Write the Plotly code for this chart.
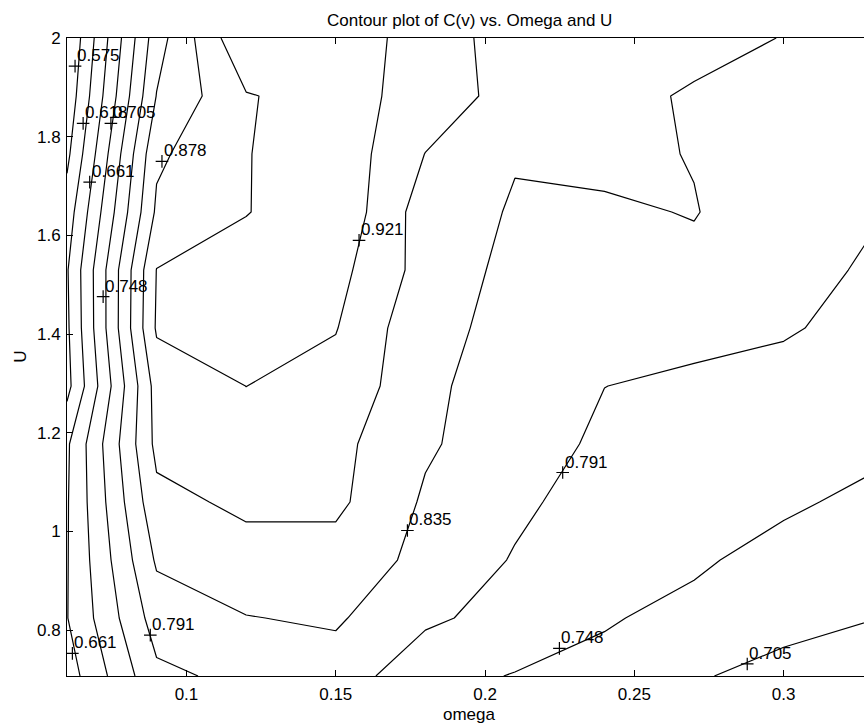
import plotly.graph_objects as go

# grid of the measurement (omega across, U up)
omega = [0.06, 0.09, 0.12, 0.15, 0.18, 0.21, 0.24, 0.27, 0.30, 0.33]
U = [0.7071, 0.8246, 0.9421, 1.0597, 1.1772, 1.2947, 1.4122, 1.5298,
     1.6473, 1.7649, 1.8824, 2.0]

# C(v) values, one row per U value (bottom row first)
cv = [
    [0.641, 0.782, 0.802, 0.815, 0.762, 0.746, 0.735, 0.712, 0.680, 0.670],
    [0.660, 0.811, 0.833, 0.840, 0.799, 0.775, 0.752, 0.735, 0.730, 0.706],
    [0.659, 0.840, 0.862, 0.860, 0.823, 0.788, 0.775, 0.755, 0.731, 0.720],
    [0.658, 0.866, 0.886, 0.887, 0.829, 0.800, 0.772, 0.765, 0.756, 0.736],
    [0.655, 0.889, 0.905, 0.890, 0.840, 0.810, 0.784, 0.780, 0.775, 0.760],
    [0.605, 0.895, 0.9212, 0.905, 0.850, 0.797, 0.7915, 0.785, 0.782, 0.780],
    [0.611, 0.926, 0.935, 0.923, 0.845, 0.824, 0.815, 0.801, 0.794, 0.7825],
    [0.6145, 0.922, 0.945, 0.935, 0.861, 0.822, 0.824, 0.821, 0.810, 0.784],
    [0.595, 0.885, 0.919, 0.955, 0.856, 0.831, 0.827, 0.837, 0.800, 0.795],
    [0.565, 0.870, 0.919, 0.950, 0.877, 0.837, 0.848, 0.832, 0.815, 0.800],
    [0.545, 0.836, 0.918, 0.939, 0.904, 0.860, 0.850, 0.829, 0.820, 0.810],
    [0.532, 0.816, 0.962, 0.940, 0.907, 0.853, 0.852, 0.851, 0.833, 0.825],
]

level_start = 0.575
level_step = 0.04325
level_end = 0.9211

# contour label positions (the "+" marks) and their texts
label_omega = [0.0627, 0.0654, 0.0747, 0.0676, 0.0721, 0.0918, 0.1578,
               0.1740, 0.2260, 0.0879, 0.0618, 0.2249, 0.2878]
label_u = [1.943, 1.827, 1.827, 1.708, 1.476, 1.750, 1.590,
           1.002, 1.1195, 0.790, 0.753, 0.763, 0.7315]
label_text = ["0.575", "0.618", "0.705", "0.661", "0.748", "0.878", "0.921",
              "0.835", "0.791", "0.791", "0.661", "0.748", "0.705"]

x_ticks = [0.1, 0.15, 0.2, 0.25, 0.3]
x_tick_text = ["0.1", "0.15", "0.2", "0.25", "0.3"]
y_ticks = [0.8, 1.0, 1.2, 1.4, 1.6, 1.8, 2.0]
y_tick_text = ["0.8", "1", "1.2", "1.4", "1.6", "1.8", "2"]

FONT = "Liberation Sans, Arial, Helvetica, sans-serif"
FS = 17

fig = go.Figure()
fig.add_trace(go.Contour(
    x=omega, y=U, z=cv,
    contours=dict(coloring="lines", start=level_start, end=level_end,
                  size=level_step, showlabels=False),
    line=dict(color="black", width=1.2, smoothing=0),
    colorscale=[[0, "black"], [1, "black"]],
    showscale=False, hoverinfo="skip",
))
fig.add_trace(go.Scatter(
    x=label_omega, y=label_u, mode="markers",
    marker=dict(symbol="cross-thin", size=9, color="black",
                line=dict(color="black", width=1.2)),
    hoverinfo="skip", showlegend=False,
))

annotations = []
for xo, yu, t in zip(label_omega, label_u, label_text):
    annotations.append(dict(x=xo, y=yu, xref="x", yref="y", text=t,
                            showarrow=False, xanchor="left", yanchor="bottom",
                            xshift=0, yshift=-1,
                            font=dict(family=FONT, size=FS, color="black")))

annotations += [
    dict(text="Contour plot of C(v) vs. Omega and U", xref="paper", yref="paper",
         x=0.5056, y=1.027, xanchor="center", yanchor="middle", showarrow=False,
         font=dict(family=FONT, size=FS, color="black")),
    dict(text="omega", xref="paper", yref="paper", x=0.5056, y=-0.060,
         xanchor="center", yanchor="middle", showarrow=False,
         font=dict(family=FONT, size=FS, color="black")),
    dict(text="U", xref="paper", yref="paper", x=-0.0577, y=0.5004,
         xanchor="center", yanchor="middle", showarrow=False, textangle=-90,
         font=dict(family=FONT, size=FS, color="black")),
]

fig.update_layout(
    width=864, height=723,
    margin=dict(l=67, r=0, t=38, b=47, pad=0),
    paper_bgcolor="white", plot_bgcolor="white",
    showlegend=False,
    font=dict(family=FONT, size=FS, color="black"),
    annotations=annotations,
    xaxis=dict(range=[0.06, 0.3269], tickvals=x_ticks, ticktext=x_tick_text,
               ticks="inside", ticklen=6, tickcolor="black", tickwidth=1,
               showline=True, linecolor="black", linewidth=1, mirror="ticks",
               showgrid=False, zeroline=False, automargin=False,
               ticklabelstandoff=3,
               tickfont=dict(family=FONT, size=FS, color="black")),
    yaxis=dict(range=[0.7071, 2.0], tickvals=y_ticks, ticktext=y_tick_text,
               ticks="inside", ticklen=6, tickcolor="black", tickwidth=1,
               showline=True, linecolor="black", linewidth=1, mirror=False,
               showgrid=False, zeroline=False, automargin=False,
               ticklabelstandoff=2,
               tickfont=dict(family=FONT, size=FS, color="black")),
)

fig.write_html(
    "out.html",
    config={"displayModeBar": False},
    post_script="document.body.style.margin='0';document.body.style.overflow='hidden';",
)
